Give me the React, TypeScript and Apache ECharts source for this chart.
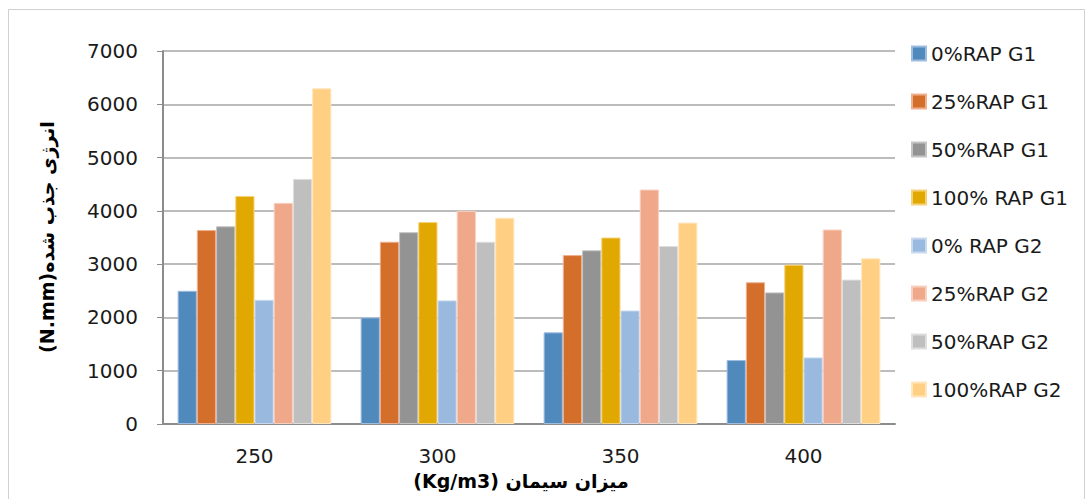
import React, { useEffect, useRef } from "react";
import * as echarts from "echarts";

const categories = ["250", "300", "350", "400"];
const seriesNames = [
  "0%RAP G1",
  "25%RAP G1",
  "50%RAP G1",
  "100% RAP G1",
  "0% RAP G2",
  "25%RAP G2",
  "50%RAP G2",
  "100%RAP G2",
];
const rap0G1 = [2500, 2000, 1720, 1200];
const rap25G1 = [3640, 3420, 3170, 2660];
const rap50G1 = [3710, 3600, 3260, 2470];
const rap100G1 = [4280, 3790, 3500, 2990];
const rap0G2 = [2330, 2320, 2130, 1250];
const rap25G2 = [4150, 4000, 4400, 3650];
const rap50G2 = [4600, 3420, 3340, 2710];
const rap100G2 = [6300, 3870, 3780, 3110];
const seriesValues = [rap0G1, rap25G1, rap50G1, rap100G1, rap0G2, rap25G2, rap50G2, rap100G2];
const colors = ["#508ABD", "#D36F2B", "#939393", "#E0A800", "#99B9DF", "#F0A88A", "#BFBFBF", "#FFD084"];
const borderColors = ["#9DBCE0", "#F0B08E", "#C4C4C4", "#F5D27A", "#C9DAF0", "#F8D0C0", "#DEDEDE", "#FFE6BC"];

const yTitle = "(N.mm)انرژی جذب شده";
const xTitle = "(Kg/m3) میزان سیمان";

const FONT = "'DejaVu Sans', sans-serif";

export default function App() {
  const ref = useRef<HTMLDivElement>(null);
  useEffect(() => {
    if (!ref.current) return;
    const chart = echarts.init(ref.current, undefined, { renderer: "svg" });
    chart.setOption({
      animation: false,
      backgroundColor: "#ffffff",
      textStyle: { fontFamily: FONT },
      grid: { left: 163, right: 194, top: 51, bottom: 75 },
      legend: {
        orient: "vertical",
        left: 906,
        top: 38,
        itemWidth: 14,
        itemHeight: 14,
        itemGap: 27,
        icon: "rect",
        textStyle: { fontSize: 20, color: "#1a1a1a", fontFamily: FONT, lineHeight: 21 },
        data: seriesNames,
      },
      xAxis: {
        type: "category",
        data: categories,
        axisLine: { lineStyle: { color: "#8c8c8c", width: 2 } },
        axisTick: { show: false },
        axisLabel: { fontSize: 20, color: "#1a1a1a", margin: 22, fontFamily: FONT },
      },
      yAxis: {
        type: "value",
        min: 0,
        max: 7000,
        interval: 1000,
        axisLine: { show: true, lineStyle: { color: "#8c8c8c", width: 2 } },
        axisTick: { show: true, length: 6, lineStyle: { color: "#8c8c8c" } },
        axisLabel: {
          fontSize: 20,
          color: "#1a1a1a",
          margin: 25,
          fontFamily: FONT,
          formatter: (v: number) => String(v),
        },
        splitLine: { lineStyle: { color: "#a6a6a6", width: 1.5 } },
      },
      series: seriesNames.map((name, i) => ({
        name,
        type: "bar",
        data: seriesValues[i],
        barGap: "0%",
        barCategoryGap: "16%",
        itemStyle: { color: colors[i], borderColor: borderColors[i], borderWidth: 1 },
      })),
      graphic: [
        {
          type: "rect",
          shape: { x: 8.5, y: 9.5, width: 1076, height: 500 },
          style: { fill: "none", stroke: "#d0d0d0", lineWidth: 1 },
          silent: true,
        },
        {
          type: "text",
          x: 47,
          y: 237,
          rotation: Math.PI / 2,
          style: {
            text: yTitle,
            fontSize: 19,
            fontWeight: "bold",
            fontFamily: FONT,
            fill: "#000",
            align: "center",
            verticalAlign: "middle",
          },
        },
        {
          type: "text",
          x: 521,
          y: 481,
          style: {
            text: xTitle,
            fontSize: 19,
            fontWeight: "bold",
            fontFamily: FONT,
            fill: "#000",
            align: "center",
            verticalAlign: "middle",
          },
        },
      ],
    });
    return () => chart.dispose();
  }, []);
  return (
    <div
      ref={ref}
      style={{ position: "fixed", left: 0, top: 0, width: 1089, height: 499 }}
    />
  );
}
